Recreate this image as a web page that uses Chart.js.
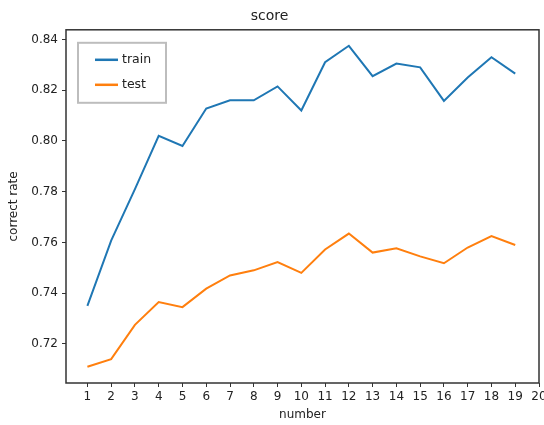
<!DOCTYPE html>
<html>
<head>
<meta charset="utf-8">
<script src="https://cdn.jsdelivr.net/npm/chart.js@4.4.0/dist/chart.umd.min.js"></script>
<style>
html,body{margin:0;padding:0;background:#fff;}
#wrap{width:544px;height:425px;}
</style>
</head>
<body>
<div id="wrap"><canvas id="c" width="544" height="425"></canvas></div>
<script>
const numbers = [1,2,3,4,5,6,7,8,9,10,11,12,13,14,15,16,17,18,19];
const trainScores = [0.735,0.7607,0.781,0.802,0.798,0.8128,0.816,0.816,0.8215,0.812,0.831,0.8375,0.8255,0.8305,0.829,0.8158,0.825,0.833,0.8265];
const testScores = [0.711,0.714,0.7275,0.7365,0.7345,0.7418,0.747,0.749,0.7523,0.748,0.7572,0.7635,0.756,0.7577,0.7545,0.7518,0.758,0.7625,0.759];
const xTickValues = [1,2,3,4,5,6,7,8,9,10,11,12,13,14,15,16,17,18,19,20];
const yTickValues = [0.72,0.74,0.76,0.78,0.80,0.82,0.84];
const seriesNames = ['train','test'];
const titleText = 'score';
const xLabel = 'number';
const yLabel = 'correct rate';

const FONT = "'DejaVu Sans', sans-serif";

const framePlugin = {
  id: 'frame',
  afterDraw(chart) {
    const ctx = chart.ctx, a = chart.chartArea;
    ctx.save();
    ctx.strokeStyle = '#333';
    ctx.lineWidth = 1.5;
    ctx.strokeRect(a.left, a.top, a.right - a.left, a.bottom - a.top);
    // legend
    const lx = a.left + 12, ly = a.top + 13, lw = 88, lh = 60;
    ctx.fillStyle = 'rgba(255,255,255,0.85)';
    ctx.fillRect(lx, ly, lw, lh);
    ctx.strokeStyle = '#bdbdbd';
    ctx.lineWidth = 2;
    ctx.strokeRect(lx, ly, lw, lh);
    chart.data.datasets.forEach((ds, i) => {
      const y = ly + 17 + i * 25;
      ctx.strokeStyle = ds.borderColor;
      ctx.lineWidth = 2.5;
      ctx.beginPath();
      ctx.moveTo(lx + 17, y);
      ctx.lineTo(lx + 40, y);
      ctx.stroke();
      ctx.fillStyle = '#222';
      ctx.font = '12.5px ' + FONT;
      ctx.textBaseline = 'middle';
      ctx.fillText(ds.label, lx + 44, y);
    });
    ctx.restore();
  }
};

new Chart(document.getElementById('c'), {
  type: 'line',
  data: {
    datasets: [
      { label: seriesNames[0], data: numbers.map((n,i)=>({x:n,y:trainScores[i]})), borderColor: '#1f77b4', borderWidth: 2, pointRadius: 0, tension: 0, fill: false },
      { label: seriesNames[1], data: numbers.map((n,i)=>({x:n,y:testScores[i]})), borderColor: '#ff7f0e', borderWidth: 2, pointRadius: 0, tension: 0, fill: false }
    ]
  },
  options: {
    responsive: false,
    animation: false,
    layout: { padding: { left: 0, right: 5, top: 0, bottom: 0 } },
    plugins: {
      legend: { display: false },
      tooltip: { enabled: false },
      title: { display: true, text: titleText, color: '#222', font: { family: FONT, size: 14, weight: 'normal' }, padding: { top: 8, bottom: 5 } }
    },
    scales: {
      x: {
        type: 'linear',
        min: 0.1, max: 20,
        afterBuildTicks: s => { s.ticks = xTickValues.map(v => ({ value: v })); },
        afterFit: s => { s.height = 42; s.paddingLeft = 0; s.paddingRight = 0; },
        ticks: { color: '#222', font: { family: FONT, size: 12 }, padding: 3, maxRotation: 0, autoSkip: false, callback: v => String(v) },
        grid: { display: true, drawOnChartArea: false, drawTicks: true, tickLength: 4, color: '#333', tickWidth: 1 },
        border: { display: false },
        title: { display: true, text: xLabel, color: '#222', font: { family: FONT, size: 12 }, padding: { top: 0, bottom: 3 } }
      },
      y: {
        type: 'linear',
        min: 0.7046, max: 0.8438,
        afterBuildTicks: s => { s.ticks = yTickValues.map(v => ({ value: v })); },
        afterFit: s => { s.width = 66; s.paddingTop = 0; s.paddingBottom = 0; },
        ticks: { color: '#222', font: { family: FONT, size: 12 }, padding: 4, autoSkip: false, callback: v => v.toFixed(2) },
        grid: { display: true, drawOnChartArea: false, drawTicks: true, tickLength: 4, color: '#333', tickWidth: 1 },
        border: { display: false },
        title: { display: true, text: yLabel, color: '#222', font: { family: FONT, size: 12 }, padding: { top: 7, bottom: 0 } }
      }
    }
  },
  plugins: [framePlugin]
});
</script>
</body>
</html>
